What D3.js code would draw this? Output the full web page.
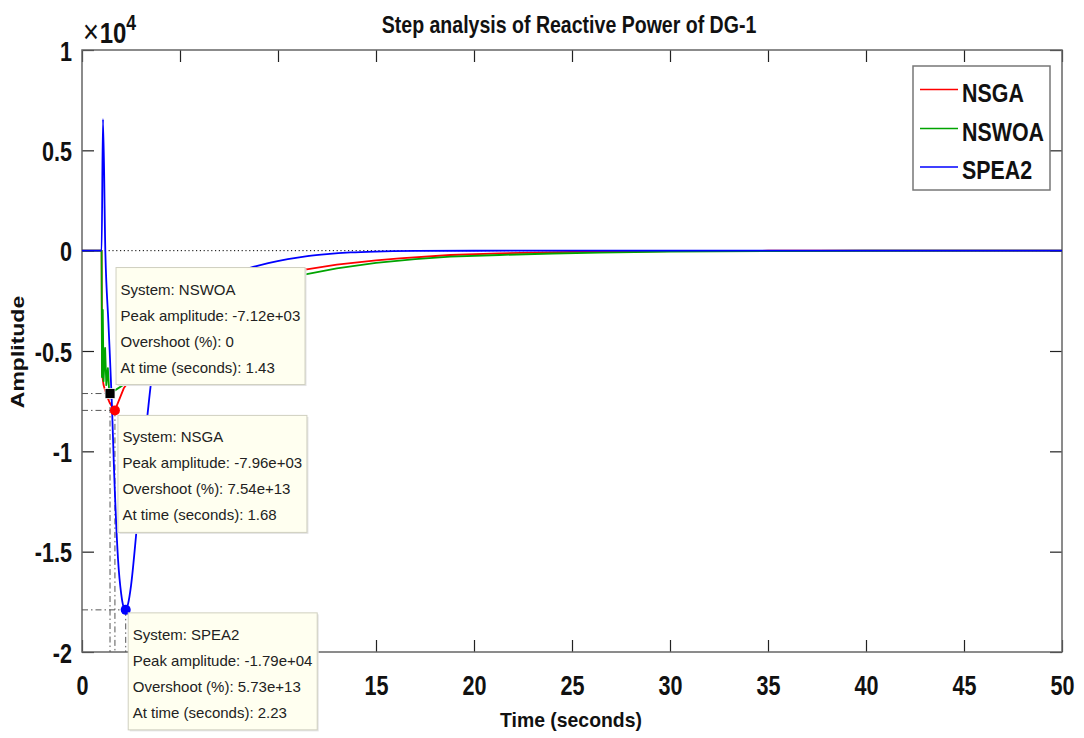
<!DOCTYPE html>
<html>
<head>
<meta charset="utf-8">
<script src="https://cdn.jsdelivr.net/npm/d3@7"></script>
<style>
  html, body { margin: 0; padding: 0; background: #fff; }
  svg { display: block; }
  text { font-family: "Liberation Sans", Arial, Helvetica, sans-serif; }
</style>
</head>
<body>
<svg id="chart" width="1084" height="738"></svg>
<script>
// ---------------- DATA ----------------
const seriesNames = ["NSGA", "NSWOA", "SPEA2"];
const seriesColors = ["#ff0000", "#00a400", "#0000ff"];

const timeNSGA = [0, 1.0, 1.02, 1.1, 1.25, 1.4, 1.55, 1.68, 2.13, 3, 4, 5, 6, 8, 10, 11.3, 13, 15, 16.2, 18.8, 21.3, 25, 30, 35, 40, 50];
const ampNSGA  = [0, 0, -6100, -6700, -7200, -7550, -7800, -7960, -6860, -5700, -4700, -3750, -3000, -1950, -1270, -960, -700, -480, -380, -215, -130, -60, -20, -5, 0, 0];

const timeNSWOA = [0, 1.0, 1.02, 1.06, 1.10, 1.18, 1.24, 1.32, 1.38, 1.43, 1.7, 2.1, 3, 4, 5, 6, 8, 10, 11.4, 13, 15, 17, 18.8, 21.3, 24, 26.4, 30, 35, 40, 50];
const ampNSWOA  = [0, 0, -6300, -2950, -6500, -4850, -6700, -5850, -6900, -7120, -6950, -6700, -5670, -4780, -3910, -3260, -2240, -1540, -1180, -880, -610, -420, -300, -215, -140, -100, -50, -20, -5, 0];

const timeSPEA2 = [0, 1.0, 1.07, 1.19, 1.35, 1.53, 1.62, 1.84, 2.0, 2.12, 2.23, 2.35, 2.5, 2.77, 3.05, 3.35, 3.52, 3.8, 4.2, 5, 6, 7, 8, 8.57, 9.5, 10.5, 11.5, 12.5, 13.7, 15, 17, 20, 25, 50];
const ampSPEA2  = [0, 0, 6550, 0, -3650, -7770, -10500, -15400, -17100, -17750, -17900, -17600, -16700, -14070, -11000, -8100, -6600, -5100, -3900, -2700, -1850, -1350, -1030, -860, -620, -420, -270, -170, -90, -45, -15, -3, 0, 0];

const xTicks = [0, 5, 10, 15, 20, 25, 30, 35, 40, 45, 50];
const yTicks = [-20000, -15000, -10000, -5000, 0, 5000, 10000];
const yTickLabels = ["-2", "-1.5", "-1", "-0.5", "0", "0.5", "1"];

// peak annotations (datatips)
const tipSystems   = ["NSWOA", "NSGA", "SPEA2"];
const tipPeakAmp   = [-7120, -7960, -17900];
const tipPeakLabel = ["-7.12e+03", "-7.96e+03", "-1.79e+04"];
const tipOvershoot = ["0", "7.54e+13", "5.73e+13"];
const tipTime      = [1.43, 1.68, 2.23];

const titleText = "Step analysis of Reactive Power of DG-1";
const xLabel = "Time (seconds)";
const yLabel = "Amplitude";

// ---------------- LAYOUT ----------------
const L = 82, R = 1062, T = 50, B = 652;
const svg = d3.select("#chart");
const x = d3.scaleLinear().domain([0, 50]).range([L, R]);
const y = d3.scaleLinear().domain([-20000, 10000]).range([B, T]);
const SX = 0.8; // horizontal squeeze of bold labels

const axisColor = "#666";

const gxb = svg.append("g").attr("transform", `translate(0,${B})`)
  .call(d3.axisBottom(x).tickValues(xTicks).tickSize(-12).tickFormat(d3.format("d")));
const gxt = svg.append("g").attr("transform", `translate(0,${T})`)
  .call(d3.axisTop(x).tickValues(xTicks).tickSize(-12).tickFormat(""));
const gyl = svg.append("g").attr("transform", `translate(${L},0)`)
  .call(d3.axisLeft(y).tickValues(yTicks).tickSize(-12).tickPadding(12.5)
    .tickFormat(d => yTickLabels[yTicks.indexOf(d)]));
const gyr = svg.append("g").attr("transform", `translate(${R},0)`)
  .call(d3.axisRight(y).tickValues(yTicks).tickSize(-12).tickFormat(""));

[gxb, gxt, gyl, gyr].forEach(g => {
  g.select(".domain").remove();
  g.selectAll(".tick line").attr("stroke", "#222").attr("stroke-width", 1.2);
});
[gxb, gyl].forEach(g => {
  g.selectAll(".tick text")
    .attr("fill", "#111")
    .attr("font-size", 27)
    .attr("font-weight", "bold")
    .attr("transform", `scale(${SX},1)`);
});
gxb.selectAll(".tick text").attr("dy", 0).attr("y", 43);
gyl.selectAll(".tick text").attr("dy", 0).attr("y", 10);

svg.append("rect")
  .attr("x", L).attr("y", T).attr("width", R - L).attr("height", B - T)
  .attr("fill", "none").attr("stroke", axisColor).attr("stroke-width", 1.5);

// exponent label
const ex = svg.append("g").attr("transform", `translate(83,43)`);
const exT = ex.append("text").attr("transform", "scale(0.8,1)")
  .attr("font-size", 30).attr("fill", "#111");
exT.append("tspan").attr("font-size", 34).text("\u00d7");
exT.append("tspan").attr("font-weight", "bold").attr("dx", 1).text("10");
exT.append("tspan").attr("font-size", 22).attr("font-weight", "bold").attr("dy", -13).text("4");

// title
svg.append("g").attr("transform", "translate(569,33)")
  .append("text").attr("transform", "scale(0.85,1)")
  .attr("text-anchor", "middle").attr("font-size", 23).attr("font-weight", "bold")
  .attr("fill", "#111").text(titleText);

// axis labels
svg.append("g").attr("transform", "translate(571,727)")
  .append("text").attr("transform", "scale(0.97,1)")
  .attr("text-anchor", "middle").attr("font-size", 20).attr("font-weight", "bold")
  .attr("fill", "#111").text(xLabel);
svg.append("g").attr("transform", "translate(24,352) scale(0.78,1) rotate(-90)")
  .append("text").attr("text-anchor", "middle").attr("font-size", 23).attr("font-weight", "bold")
  .attr("fill", "#111").text(yLabel);

// steady state dotted line
svg.append("line")
  .attr("x1", L).attr("x2", R).attr("y1", y(0)).attr("y2", y(0))
  .attr("stroke", "#000").attr("stroke-width", 1).attr("stroke-dasharray", "1.2,2.6");

// reference dash-dot lines for peaks
const peakColors = ["#000000", "#ff0000", "#0000ff"];
tipSystems.forEach((s, i) => {
  const px = x(tipTime[i]), py = y(tipPeakAmp[i]);
  svg.append("line").attr("x1", L).attr("x2", px).attr("y1", py).attr("y2", py)
    .attr("stroke", "#555").attr("stroke-width", 1).attr("stroke-dasharray", "6,3,1.5,3");
  svg.append("line").attr("x1", px).attr("x2", px).attr("y1", py).attr("y2", B)
    .attr("stroke", "#555").attr("stroke-width", 1).attr("stroke-dasharray", "6,3,1.5,3");
});

// curves
const times = [timeNSGA, timeNSWOA, timeSPEA2];
const amps = [ampNSGA, ampNSWOA, ampSPEA2];
const curves = [d3.curveLinear, d3.curveLinear, d3.curveMonotoneX];
seriesNames.forEach((n, i) => {
  const pts = times[i].map((t, j) => [t, amps[i][j]]);
  svg.append("path")
    .attr("d", d3.line().x(d => x(d[0])).y(d => y(d[1])).curve(curves[i])(pts))
    .attr("fill", "none").attr("stroke", seriesColors[i]).attr("stroke-width", 1.8)
    .attr("stroke-linejoin", "round");
});

// markers
tipSystems.forEach((s, i) => {
  const px = x(tipTime[i]), py = y(tipPeakAmp[i]);
  if (s === "NSWOA") {
    svg.append("rect").attr("x", px - 5).attr("y", py - 5).attr("width", 10).attr("height", 10)
      .attr("fill", "#000").attr("stroke", "#fff").attr("stroke-width", 0.8);
  } else {
    svg.append("circle").attr("cx", px).attr("cy", py).attr("r", 5)
      .attr("fill", peakColors[i]);
  }
});

// datatips
const tipOffsets = [[6, -126], [3, 5], [2.5, 3]];
const tipW = 189, tipH = 117;
tipSystems.forEach((s, i) => {
  const px = x(tipTime[i]) + tipOffsets[i][0];
  const py = y(tipPeakAmp[i]) + tipOffsets[i][1];
  const g = svg.append("g").attr("transform", `translate(${px},${py})`);
  g.append("rect").attr("x", 1.5).attr("y", 1.5).attr("width", tipW).attr("height", tipH)
    .attr("fill", "#e4e4e4");
  g.append("rect").attr("width", tipW).attr("height", tipH)
    .attr("fill", "#fffff0").attr("stroke", "#d0d0c0").attr("stroke-width", 1);
  const lines = [
    "System: " + s,
    "Peak amplitude: " + tipPeakLabel[i],
    "Overshoot (%): " + tipOvershoot[i],
    "At time (seconds): " + tipTime[i]
  ];
  lines.forEach((ln, k) => {
    g.append("text").attr("x", 4.5).attr("y", 27 + k * 26)
      .attr("font-size", 15).attr("fill", "#222").text(ln);
  });
});

// legend
const lg = svg.append("g");
lg.append("rect").attr("x", 913).attr("y", 66).attr("width", 137).attr("height", 124)
  .attr("fill", "#fff").attr("stroke", "#777").attr("stroke-width", 1.5);
const legY = [89.5, 128.5, 167];
seriesNames.forEach((n, i) => {
  lg.append("line").attr("x1", 920).attr("x2", 958).attr("y1", legY[i]).attr("y2", legY[i])
    .attr("stroke", seriesColors[i]).attr("stroke-width", 1.5);
  lg.append("g").attr("transform", `translate(962,${legY[i] + 12.3})`)
    .append("text").attr("transform", "scale(0.84,1)")
    .attr("font-size", 25.5).attr("font-weight", "bold").attr("fill", "#111").text(n);
});
</script>
</body>
</html>
